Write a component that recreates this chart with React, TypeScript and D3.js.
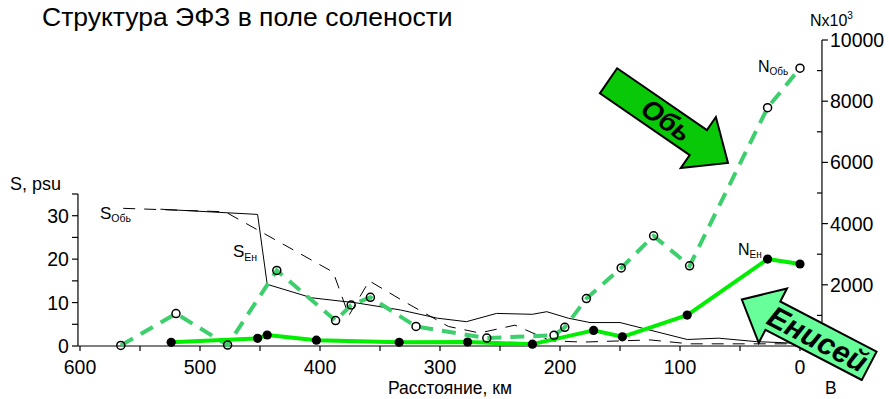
import * as d3 from 'd3'

// distance along section, km (x) and values
const sObDist = [564, 479, 389, 376, 359, 329, 293, 267, 237.5, 208, 181, 125, 92, 0]
const sObVal = [31.7, 30.9, 17.0, 7.0, 15.0, 10.1, 4.5, 3.0, 4.8, 1.2, 0.9, 1.4, 0.5, 0.5]

const sEnDist = [533, 452, 444, 407, 369, 333, 302, 278, 253, 223, 211, 193, 175, 150, 94, 68, 36, 0]
const sEnVal = [31.5, 30.3, 14.2, 11.1, 9.9, 8.3, 6.4, 5.6, 7.5, 7.3, 7.9, 6.4, 5.4, 5.4, 1.5, 1.8, 1.0, 0.6]

const nObDist = [566, 520, 477, 436, 387, 374, 358, 320, 261, 205, 196, 178, 149, 122, 92, 27, 0]
const nObVal = [20, 1060, 30, 2470, 830, 1340, 1590, 640, 260, 350, 610, 1550, 2550, 3600, 2620, 7790, 9080]

const nEnDist = [524, 452, 444, 403, 334, 277, 223, 172, 148, 94, 27, 0]
const nEnVal = [120, 250, 360, 190, 120, 130, 60, 510, 300, 1010, 2840, 2680]

const distTicks = [600, 500, 400, 300, 200, 100, 0]
const distMinor = [550, 450, 350, 250, 150, 50]
const sTicks = [0, 10, 20, 30]
const sMinor = [5, 15, 25, 35]
const nTicks = [2000, 4000, 6000, 8000, 10000]
const nMinor = [1000, 3000, 5000, 7000, 9000]

const W = 889
const H = 399
const FONT = '"Liberation Sans", Arial, sans-serif'

function zip(a: number[], b: number[]): [number, number][] {
  return a.map((v, i) => [v, b[i]])
}

// arrow polygon along +x from tail centre
function arrowPath(len: number, shaftHalf: number, headLen: number, headHalf: number) {
  const b = len - headLen
  return `M0,${-shaftHalf}L${b},${-shaftHalf}L${b},${-headHalf}L${len},0L${b},${headHalf}L${b},${shaftHalf}L0,${shaftHalf}Z`
}

export default function App() {
  const x = d3.scaleLinear().domain([600, 0]).range([80, 800])
  const yS = d3.scaleLinear().domain([0, 35]).range([346, 194])
  const yN = d3.scaleLinear().domain([0, 10000]).range([346, 40])

  const xL = x(601.7)
  const xR = x(-18.3)
  const y0 = yS(0)

  const lineS = d3.line<[number, number]>().x(d => x(d[0])).y(d => yS(d[1]))
  const lineN = d3.line<[number, number]>().x(d => x(d[0])).y(d => yN(d[1]))

  const nOb = zip(nObDist, nObVal)
  const nEn = zip(nEnDist, nEnVal)

  return (
    <svg width={W} height={H} style={{ position: 'absolute', left: 0, top: 0, background: '#fff' }}
      fontFamily={FONT}>
      <text x={42} y={26} fontSize={26.5} fill="#000">
        Структура ЭФЗ в поле солености
      </text>

      {/* axes */}
      <g stroke="#000" strokeWidth={1.2} fill="none">
        <line x1={xL} x2={xR} y1={y0} y2={y0} />
        <line x1={xL} x2={xL} y1={y0} y2={yS(35)} />
        <line x1={xR} x2={xR} y1={y0} y2={yN(10000)} />
        {[...distTicks, ...distMinor].map(d => (
          <line key={'xt' + d} x1={x(d)} x2={x(d)} y1={y0} y2={y0 + 5} />
        ))}
        {[...sTicks, ...sMinor].map(s => (
          <line key={'st' + s} x1={xL - 6} x2={xL} y1={yS(s)} y2={yS(s)} />
        ))}
        {nTicks.map(n => (
          <line key={'nt' + n} x1={xR} x2={xR + 6} y1={yN(n)} y2={yN(n)} />
        ))}
        {nMinor.map(n => (
          <line key={'nm' + n} x1={xR - 5} x2={xR} y1={yN(n)} y2={yN(n)} />
        ))}
      </g>

      <g fontSize={19.5} fill="#000">
        {distTicks.map(d => (
          <text key={'xl' + d} x={x(d)} y={374} textAnchor="middle">{d}</text>
        ))}
        {sTicks.map(s => (
          <text key={'sl' + s} x={xL - 9} y={yS(s) + 7} textAnchor="end">{s}</text>
        ))}
        {nTicks.map(n => (
          <text key={'nl' + n} x={xR + 8} y={yN(n) + 7}>{n}</text>
        ))}
      </g>

      <text x={10} y={190} fontSize={18}>S, psu</text>
      <text x={810} y={26} fontSize={16}>Nx10<tspan fontSize={10} dy={-7}>3</tspan></text>
      <text x={(xL + xR) / 2} y={394} fontSize={17.5} textAnchor="middle">Расстояние, км</text>
      <text x={825} y={394} fontSize={17.5}>В</text>

      {/* salinity */}
      <path d={lineS(zip(sObDist, sObVal)) ?? ''} fill="none" stroke="#000" strokeWidth={1}
        strokeDasharray="12,9" />
      <path d={lineS(zip(sEnDist, sEnVal)) ?? ''} fill="none" stroke="#000" strokeWidth={1} />

      {/* numbers */}
      <path d={lineN(nOb) ?? ''} fill="none" stroke="#3ccf6c" strokeWidth={4}
        strokeDasharray="14,9" />
      <path d={lineN(nEn) ?? ''} fill="none" stroke="#00ee00" strokeWidth={4} strokeLinejoin="round" />
      {nOb.map((d, i) => (
        <circle key={'co' + i} cx={x(d[0])} cy={yN(d[1])} r={4} fill="none" stroke="#000" strokeWidth={1.5} />
      ))}
      {nEn.map((d, i) => (
        <circle key={'ce' + i} cx={x(d[0])} cy={yN(d[1])} r={4.6} fill="#000" />
      ))}

      {/* series labels */}
      <text x={100} y={219} fontSize={17}>S<tspan fontSize={10.5} dy={3}>Обь</tspan></text>
      <text x={233} y={257} fontSize={17}>S<tspan fontSize={10.5} dy={4}>Ен</tspan></text>
      <text x={758} y={72} fontSize={16}>N<tspan fontSize={10} dy={3}>Обь</tspan></text>
      <text x={738} y={255} fontSize={16}>N<tspan fontSize={10} dy={3}>Ен</tspan></text>

      {/* river arrows */}
      <g transform="translate(608.5,80.8) rotate(34.5)">
        <path d={arrowPath(145, 15.2, 36, 31)} fill="#08c808" stroke="#000" strokeWidth={2} strokeLinejoin="miter" />
        <text x={70} y={0} fontSize={27} fontWeight="bold" fontStyle="italic" textAnchor="middle"
          dominantBaseline="central">Обь</text>
      </g>
      <g transform="translate(869.2,365.8) rotate(207.5)">
        <path d={arrowPath(143.6, 16, 35, 30.6)} fill="#66ff99" stroke="#000" strokeWidth={2} strokeLinejoin="miter" />
        <g transform="translate(58,0) rotate(180)">
          <text x={0} y={0} fontSize={30} fontWeight="bold" fontStyle="italic" textAnchor="middle"
            dominantBaseline="central">Енисей</text>
        </g>
      </g>
    </svg>
  )
}
